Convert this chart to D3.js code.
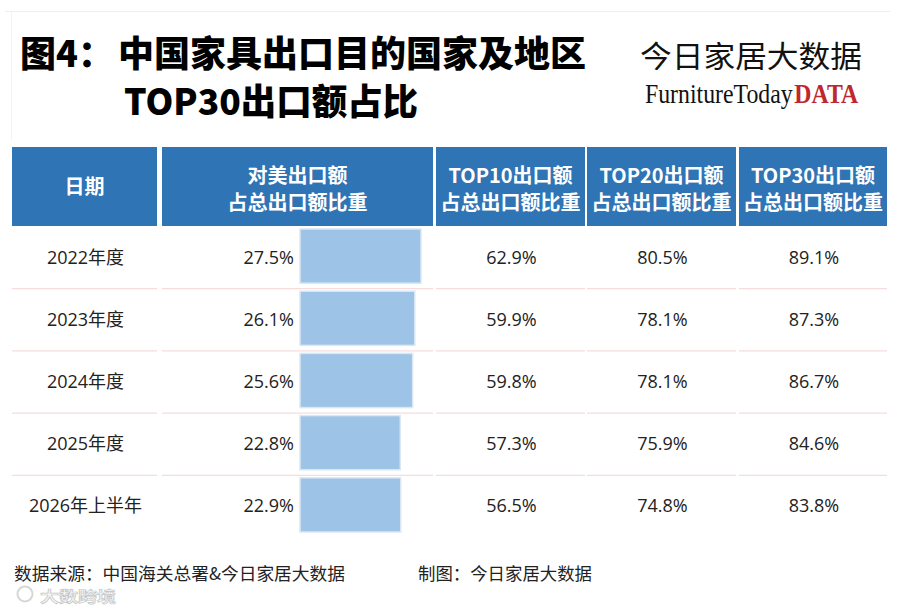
<!DOCTYPE html>
<html>
<head>
<meta charset="utf-8">
<script src="https://cdn.jsdelivr.net/npm/d3@7/dist/d3.min.js"></script>
<style>
  html, body { margin: 0; padding: 0; background: #fff; }
  svg { display: block; }
</style>
</head>
<body>
<svg id="chart" width="900" height="608"></svg>
<script>
// ---- data ----
const periods    = ["2022年度", "2023年度", "2024年度", "2025年度", "2026年上半年"];
const usShare    = [27.5, 26.1, 25.6, 22.8, 22.9];
const top10Share = [62.9, 59.9, 59.8, 57.3, 56.5];
const top20Share = [80.5, 78.1, 78.1, 75.9, 74.8];
const top30Share = [89.1, 87.3, 86.7, 84.6, 83.8];
const headers = [
  ["日期"],
  ["对美出口额", "占总出口额比重"],
  ["TOP10出口额", "占总出口额比重"],
  ["TOP20出口额", "占总出口额比重"],
  ["TOP30出口额", "占总出口额比重"]
];
const titlePrefix = "图4：";
const titleLines = ["中国家具出口目的国家及地区", "TOP30出口额占比"];
const sourceText = "数据来源：中国海关总署&今日家居大数据";
const makerText = "制图：今日家居大数据";

// ---- layout ----
const svg = d3.select("#chart");
const CJK = "'Noto Sans CJK SC', 'Noto Sans', sans-serif";
const BODY = "'Open Sans', 'Noto Sans CJK SC', sans-serif";
const BLUE = "#2f74b5";

svg.append("rect").attr("width", 900).attr("height", 608).attr("fill", "#fff");
// faint frame
svg.append("line").attr("x1", 5).attr("x2", 890).attr("y1", 11.5).attr("y2", 11.5)
  .attr("stroke", "#efefef").attr("stroke-width", 1);
svg.append("line").attr("x1", 11.5).attr("x2", 11.5).attr("y1", 12).attr("y2", 140)
  .attr("stroke", "#f3f3f3").attr("stroke-width", 1);

// title
svg.append("text").attr("x", 20).attr("y", 67)
  .attr("font-family", CJK).attr("font-weight", 900).attr("font-size", 36)
  .attr("fill", "#000").text(titlePrefix);
svg.append("text").attr("x", 118).attr("y", 67)
  .attr("font-family", CJK).attr("font-weight", 900).attr("font-size", 36)
  .attr("fill", "#000").text(titleLines[0]);
svg.append("text").attr("x", 124).attr("y", 115)
  .attr("font-family", CJK).attr("font-weight", 900).attr("font-size", 36)
  .attr("fill", "#000").attr("textLength", 294).attr("lengthAdjust", "spacingAndGlyphs")
  .text(titleLines[1]);

// brand
svg.append("text").attr("x", 862).attr("y", 67).attr("text-anchor", "end")
  .attr("font-family", CJK).attr("font-weight", 400).attr("font-size", 30)
  .attr("fill", "#111").attr("textLength", 222).attr("lengthAdjust", "spacingAndGlyphs")
  .text("今日家居大数据");
const logo = svg.append("text")
  .attr("transform", "translate(645,103) scale(0.85,1)")
  .attr("font-family", "'Liberation Serif', 'DejaVu Serif', serif")
  .attr("font-size", 28);
logo.append("tspan").attr("fill", "#111").text("FurnitureToday");
logo.append("tspan").attr("dx", 2).attr("fill", "#c0272d").attr("font-weight", 700).text("DATA");

// columns
const cols = [
  { x0: 12,  x1: 157 },
  { x0: 162, x1: 433 },
  { x0: 436, x1: 585 },
  { x0: 587, x1: 736 },
  { x0: 739, x1: 887 }
];
const headTop = 147, headBottom = 226;

const hg = svg.append("g");
cols.forEach((c, i) => {
  hg.append("rect").attr("x", c.x0).attr("y", headTop)
    .attr("width", c.x1 - c.x0).attr("height", headBottom - headTop).attr("fill", BLUE);
  const lines = headers[i];
  const cx = (c.x0 + c.x1) / 2;
  const ys = lines.length === 1 ? [194] : [183, 210];
  lines.forEach((t, j) => {
    hg.append("text").attr("x", cx).attr("y", ys[j]).attr("text-anchor", "middle")
      .attr("font-family", CJK).attr("font-weight", 700).attr("font-size", 20)
      .attr("fill", "#fff").text(t);
  });
});

// rows
const y = d3.scaleBand().domain(periods).range([headBottom, 537]).padding(0);
const barX0 = 300;
const x = d3.scaleLinear().domain([0, d3.max(usShare)]).range([0, 121]);

const rows = periods.map((p, i) => ({
  p, us: usShare[i], t10: top10Share[i], t20: top20Share[i], t30: top30Share[i]
}));

// separators
rows.forEach((r, i) => {
  if (i === 0) return;
  const yy = y(r.p) + 0.5;
  cols.forEach(c => {
    svg.append("line").attr("x1", c.x0).attr("x2", c.x1).attr("y1", yy).attr("y2", yy)
      .attr("stroke", "#f6dcdc").attr("stroke-width", 1.2);
  });
});

const fmt = v => v.toFixed(1) + "%";
const rg = svg.selectAll("g.row").data(rows).join("g").attr("class", "row");

// bars
rg.append("rect")
  .attr("x", barX0)
  .attr("y", d => y(d.p) + 3)
  .attr("width", d => x(d.us))
  .attr("height", y.bandwidth() - 8)
  .attr("fill", "#9dc3e6")
  .attr("stroke", "#dae8f6").attr("stroke-width", 1.5);

const textY = d => y(d.p) + y.bandwidth() / 2 + 6.5;
const cell = (sel, xPos, anchor, fn) => sel.append("text")
  .attr("x", xPos).attr("y", textY).attr("text-anchor", anchor)
  .attr("font-family", BODY).attr("font-size", 18).attr("fill", "#222")
  .text(fn);

cell(rg, (cols[0].x0 + cols[0].x1) / 2 + 1, "middle", d => d.p);
cell(rg, 294, "end", d => fmt(d.us));
cell(rg, (cols[2].x0 + cols[2].x1) / 2 + 1, "middle", d => fmt(d.t10));
cell(rg, (cols[3].x0 + cols[3].x1) / 2 + 1, "middle", d => fmt(d.t20));
cell(rg, (cols[4].x0 + cols[4].x1) / 2 + 1, "middle", d => fmt(d.t30));

// footer
svg.append("text").attr("x", 14).attr("y", 580)
  .attr("font-family", CJK).attr("font-size", 17.5).attr("fill", "#222")
  .attr("textLength", 331).attr("lengthAdjust", "spacingAndGlyphs").text(sourceText);
svg.append("text").attr("x", 418).attr("y", 580)
  .attr("font-family", CJK).attr("font-size", 17.5).attr("fill", "#222")
  .attr("textLength", 174).attr("lengthAdjust", "spacingAndGlyphs").text(makerText);

// watermark
svg.append("text").attr("x", 40).attr("y", 602)
  .attr("font-family", CJK).attr("font-weight", 700).attr("font-size", 15)
  .attr("fill", "#f4f4f4").attr("stroke", "#bdbdbd").attr("stroke-width", 0.7)
  .attr("opacity", 0.85).attr("textLength", 76).attr("lengthAdjust", "spacingAndGlyphs")
  .text("大数跨境");
svg.append("circle").attr("cx", 25).attr("cy", 594).attr("r", 7.5)
  .attr("fill", "none").attr("stroke", "#cfcfcf").attr("stroke-width", 2).attr("opacity", 0.85);
</script>
</body>
</html>
